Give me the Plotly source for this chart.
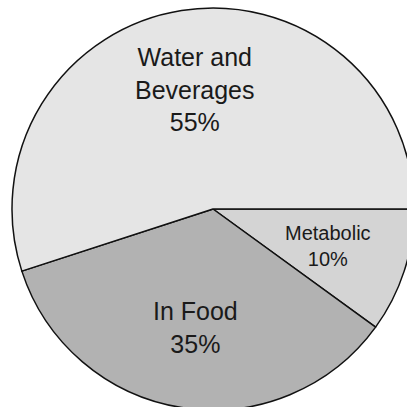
import plotly.graph_objects as go

labels = ["Metabolic", "In Food", "Water and Beverages"]
values = [10, 35, 55]
colors = ["#d4d4d4", "#b2b2b2", "#e5e5e5"]
label_lines = ["Metabolic", "In Food", "Water and<br>Beverages"]

W = H = 430
cx, cy, r = 213, 209, 201

fig = go.Figure(go.Pie(
    labels=labels, values=values, sort=False, direction="clockwise", rotation=90,
    marker=dict(colors=colors, line=dict(color="#111111", width=1.5)),
    textinfo="none", hoverinfo="none", showlegend=False,
    domain=dict(x=[(cx - r) / W, (cx + r) / W], y=[(H - cy - r) / H, (H - cy + r) / H]),
))

# label positions (pixels from top-left) and sizes
pos = [(328, 246, 20), (195, 327, 25), (195, 89, 25)]
for lab, v, (px, py, fs) in zip(label_lines, values, pos):
    fig.add_annotation(x=px / W, y=1 - py / H, xref="paper", yref="paper",
                       text=f"{lab}<br>{v}%", showarrow=False,
                       font=dict(family="Liberation Sans, Arial", size=fs, color="#1a1a1a"),
                       xanchor="center", yanchor="middle", align="center")

fig.update_layout(width=W, height=H, margin=dict(l=0, r=0, t=0, b=0),
                  paper_bgcolor="white", plot_bgcolor="white")
fig.write_html("out.html", config={"displayModeBar": False},
               post_script="document.body.style.margin='0';document.body.style.overflow='hidden';document.documentElement.style.overflow='hidden';")
